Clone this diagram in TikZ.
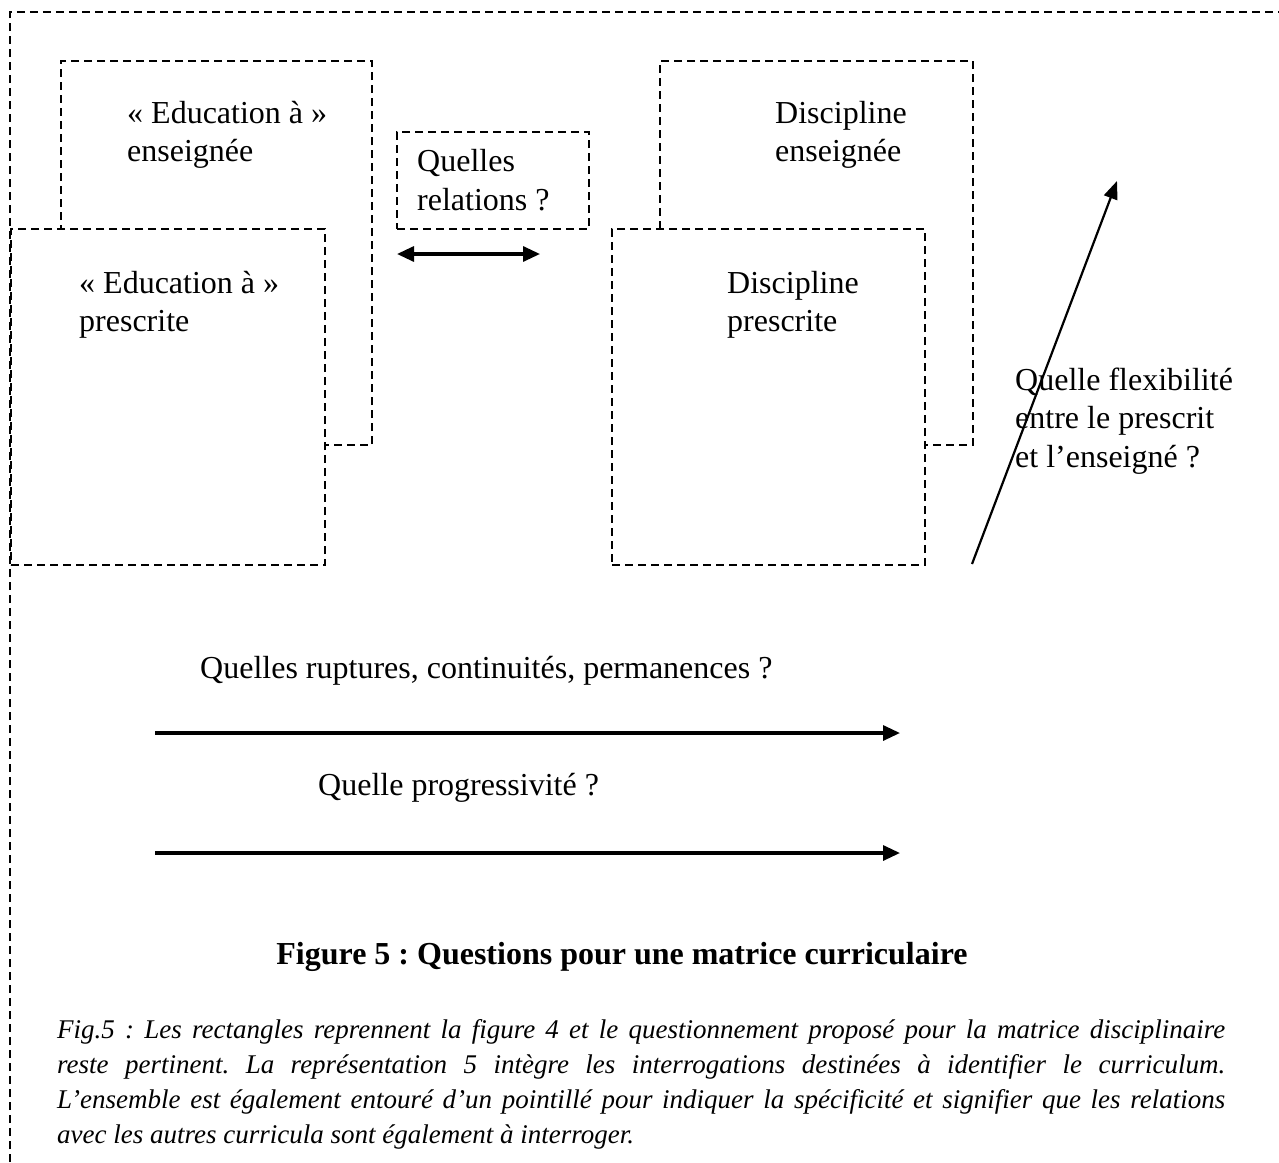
\documentclass[tikz,border=0pt]{standalone}
\usepackage{fontspec}
\setmainfont{Liberation Serif}
\usetikzlibrary{arrows.meta}
\begin{document}
\frenchspacing
\begin{tikzpicture}[x=1pt,y=-1pt,
  dbox/.style={draw, line width=2.3pt, dash pattern=on 8pt off 5pt, inner sep=0pt, anchor=north west},
  lbl/.style={anchor=base west, inner sep=0pt, align=left, font=\fontsize{32}{38.5}\selectfont},
  tip/.style={line width=3.2pt},
  arr/.style={tip, -{Triangle[length=17pt,width=15pt]}},
  darr/.style={tip, {Triangle[length=17pt,width=15pt]}-{Triangle[length=17pt,width=15pt]}},
  thinarr/.style={line width=2.2pt, -{Triangle[length=18pt,width=14pt]}},
]
\useasboundingbox (0,0) rectangle (1279,1162);
\fill[white] (0,0) rectangle (1279,1162);
% outer dashed frame (only top and left visible)
\coordinate (fbl) at (10,1162);
\coordinate (ftl) at (10,12);
\coordinate (ftr) at (1279,12);
\draw[dbox] (fbl) -- (ftl) -- (ftr);

% back boxes
\node[dbox, minimum width=311pt, minimum height=384pt] (educens) at (60,60) {};
\node[dbox, minimum width=313pt, minimum height=384pt] (discens) at (659,60) {};
% front boxes
\node[dbox, fill=white, minimum width=314pt, minimum height=336pt] (educpres) at (10,228) {};
\node[dbox, fill=white, minimum width=313pt, minimum height=336pt] (discpres) at (611,228) {};
% relations box
\node[dbox, minimum width=192pt, minimum height=97pt] (relbox) at (396,131) {};

% labels (base anchor = baseline of last line)
\node[lbl] (t1) at (127,161.5) {« Education à »\\enseignée};
\node[lbl] (t2) at (79,331.5) {« Education à »\\prescrite};
\node[lbl] (t3) at (775,161.5) {Discipline\\enseignée};
\node[lbl] (t4) at (727,331.5) {Discipline\\prescrite};
\node[lbl] (t5) at (417,210) {Quelles\\relations ?};
\node[lbl] (t6) at (1015,467) {Quelle flexibilité\\entre le prescrit\\et l’enseigné ?};
\node[lbl] (t7) at (200,678) {Quelles ruptures, continuités, permanences ?};
\node[lbl] (t8) at (318,795) {Quelle progressivité ?};

% arrows
\coordinate (ra) at (397,254);
\coordinate (rb) at (540,254);
\draw[darr] (ra) -- (rb);
\coordinate (fa) at (972,564);
\coordinate (fb) at (1117,181);
\draw[thinarr] (fa) -- (fb);
\coordinate (h1a) at (155,733);
\coordinate (h1b) at (900,733);
\draw[arr] (h1a) -- (h1b);
\coordinate (h2a) at (155,853);
\coordinate (h2b) at (900,853);
\draw[arr] (h2a) -- (h2b);

% title
\node[anchor=base, inner sep=0pt, font=\bfseries\fontsize{32}{38}\selectfont] (title) at (622,964) {Figure 5 : Questions pour une matrice curriculaire};

% caption
\node[anchor=north west, inner sep=0pt, text width=1168pt, align=justify, font=\itshape\fontsize{27}{35}\selectfont] (cap) at (57,1019)
{Fig.5 : Les rectangles reprennent la figure 4 et le questionnement proposé pour la matrice disciplinaire\linebreak
reste pertinent. La représentation 5 intègre les interrogations destinées à identifier le curriculum.\linebreak
L’ensemble est également entouré d’un pointillé pour indiquer la spécificité et signifier que les relations\linebreak
avec les autres curricula sont également à interroger.};
\end{tikzpicture}
\end{document}
